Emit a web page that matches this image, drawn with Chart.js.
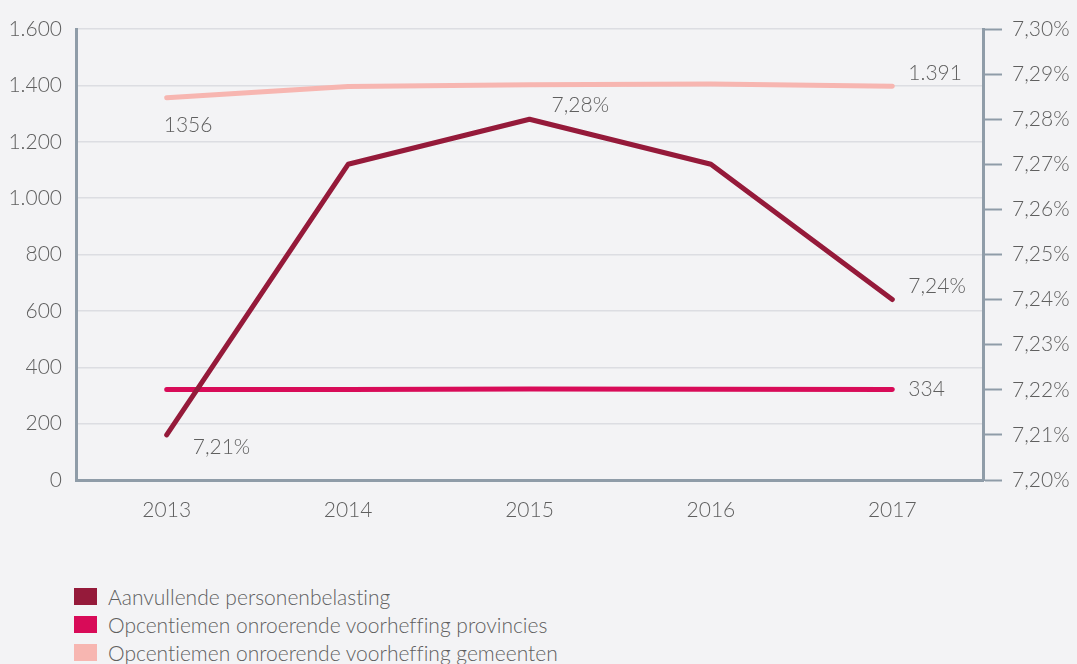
<!DOCTYPE html>
<html lang="nl">
<head>
  <meta charset="UTF-8" />
  <title>Opcentiemen en aanvullende personenbelasting</title>
  <script src="https://cdn.jsdelivr.net/npm/chart.js@4.4.1/dist/chart.umd.min.js"></script>
  <style>
    *{box-sizing:border-box;margin:0;padding:0;}
    body{background:#f3f3f5;width:1077px;height:664px;overflow:hidden;font-family:Lato,"Noto Sans",sans-serif;color:#5f5f5f;}
    #wrap{position:absolute;left:0;top:0;width:1077px;height:540px;}
    #legend{position:absolute;left:74px;top:582px;list-style:none;}
    #legend li{display:flex;align-items:center;height:28px;font-size:21px;font-weight:300;color:#5f5f5f;font-variant-ligatures:none;}
    #legend span{display:inline-block;width:23px;height:17px;margin-right:11px;}
  </style>
</head>
<body>
  <div id="wrap"><canvas id="chart"></canvas></div>
  <ul id="legend"></ul>
  <script>
  /* ---- data ---- */
  const years=['2013','2014','2015','2016','2017'];
  const apb=[7.21,7.27,7.28,7.27,7.24];            // rechteras, %
  const ovProv=[321,321,323,322,321];              // linkeras
  const ovGem=[1356,1396,1402,1405,1397];          // linkeras
  const apbLabels=['7,21%',null,'7,28%',null,'7,24%'];
  const provLabels=[null,null,null,null,'334'];
  const gemLabels=['1356',null,null,null,'1.391'];
  const leftTicks={min:0,max:1600,step:200};
  const rightTicks={min:7.20,max:7.30,step:0.01};

  const names=['Aanvullende personenbelasting','Opcentiemen onroerende voorheffing provincies','Opcentiemen onroerende voorheffing gemeenten'];
  const colors=['#951a3a','#d80b58','#f7b6b1'];
  const axisCol='#8f9ca8',gridCol='#dcdde2',txt='#5f5f5f';
  const font={family:'Lato, "Noto Sans", sans-serif',size:21,weight:300};

  // offset van de waardelabels t.o.v. het punt (pixels)
  const labelOffsets=[
    [[26,12],null,[22,-14],null,[16,-13]],
    [null,null,null,null,[16,0]],
    [[-3,27],null,null,null,[16,-13]]
  ];

  const valueLabels={
    id:'valueLabels',
    afterDatasetsDraw(chart){
      const ctx=chart.ctx;
      ctx.save();
      ctx.font=`${font.weight} ${font.size}px ${font.family}`;
      ctx.fillStyle=txt;
      ctx.textBaseline='middle';
      ctx.textAlign='left';
      chart.data.datasets.forEach((ds,i)=>{
        const meta=chart.getDatasetMeta(i);
        ds.valueLabels.forEach((t,j)=>{
          if(!t) return;
          const p=meta.data[j],o=labelOffsets[i][j];
          ctx.fillText(t,p.x+o[0],p.y+o[1]);
        });
      });
      ctx.restore();
    }
  };

  const fmtLeft=v=>String(v).replace(/\B(?=(\d{3})+(?!\d))/g,'.');
  const fmtRight=v=>Number(v).toFixed(2).replace('.',',')+'%';

  new Chart(document.getElementById('chart'),{
    type:'line',
    data:{
      labels:years,
      datasets:[
        {label:names[0],data:apb,yAxisID:'yR',borderColor:colors[0],valueLabels:apbLabels,order:1},
        {label:names[1],data:ovProv,yAxisID:'y',borderColor:colors[1],valueLabels:provLabels,order:2},
        {label:names[2],data:ovGem,yAxisID:'y',borderColor:colors[2],valueLabels:gemLabels,order:3}
      ]
    },
    options:{
      responsive:true,maintainAspectRatio:false,animation:false,
      layout:{padding:{top:29,left:0,right:0,bottom:0}},
      elements:{line:{borderWidth:5,tension:0,borderCapStyle:'round',borderJoinStyle:'round'},point:{radius:0}},
      plugins:{legend:{display:false},tooltip:{enabled:false}},
      scales:{
        x:{
          offset:true,
          grid:{display:false},
          border:{display:true,color:axisCol,width:3},
          ticks:{color:txt,font,padding:10},
          afterFit(s){s.height=60;}
        },
        y:{
          position:'left',min:leftTicks.min,max:leftTicks.max,
          grid:{color:gridCol,lineWidth:1.5,drawTicks:false},
          border:{display:true,color:axisCol,width:3},
          ticks:{stepSize:leftTicks.step,color:txt,font,padding:14,callback:fmtLeft},
          afterFit(s){s.width=76;}
        },
        yR:{
          position:'right',min:rightTicks.min,max:rightTicks.max,
          grid:{drawOnChartArea:false,drawTicks:true,tickLength:19,tickColor:axisCol,tickWidth:2,color:axisCol},
          border:{display:true,color:axisCol,width:3},
          ticks:{stepSize:rightTicks.step,color:txt,font,padding:10,callback:fmtRight},
          afterFit(s){s.width=94;}
        }
      }
    },
    plugins:[valueLabels]
  });

  const legend=document.getElementById('legend');
  names.forEach((n,i)=>{
    const li=document.createElement('li');
    li.innerHTML=`<span style="background:${colors[i]}"></span>${n}`;
    legend.appendChild(li);
  });
  </script>
</body>
</html>
